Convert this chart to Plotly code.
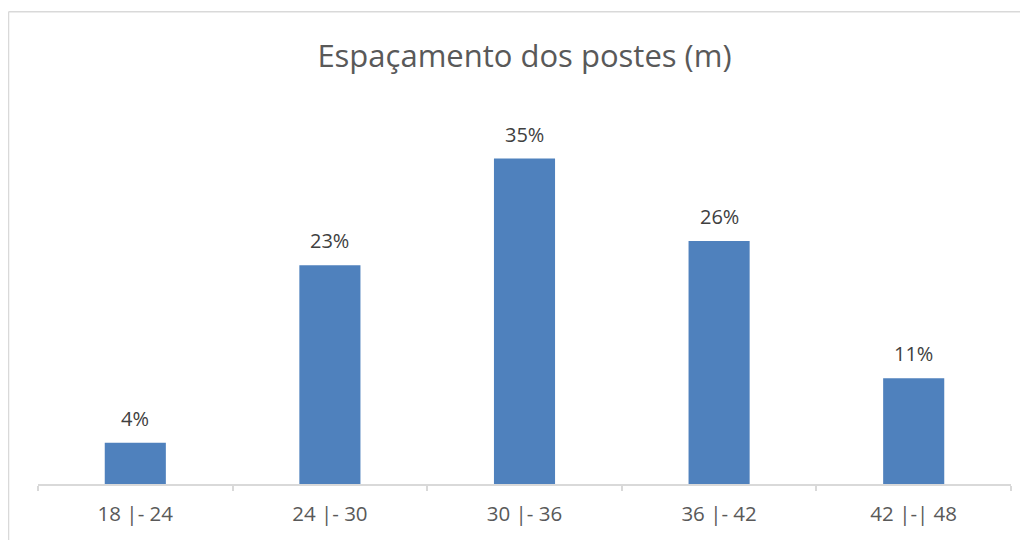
import plotly.graph_objects as go

GRAY_TEXT = "#595959"
LINE_GRAY = "#d9d9d9"
BAR_BLUE = "#4f81bd"
FONT = "Open Sans, Lato, sans-serif"

categories = ["18 |- 24", "24 |- 30", "30 |- 36", "36 |- 42", "42 |-| 48"]
percentages = [4.4, 23.4, 34.8, 26.0, 11.3]
labels = [f"{round(v)}%" for v in percentages]

fig = go.Figure(go.Bar(
    x=categories,
    y=percentages,
    marker=dict(color=BAR_BLUE, line=dict(width=0)),
    hoverinfo="skip",
))

for cat, val, lab in zip(categories, percentages, labels):
    fig.add_annotation(x=cat, y=val, text=lab, showarrow=False, yanchor="bottom",
                       yshift=9, font=dict(family=FONT, size=20, color="#404040"))

# outer chart border (only left and top edges are in view)
fig.add_shape(type="line", xref="paper", yref="paper", x0=-0.0303, x1=1.03, y0=1.263, y1=1.263,
              line=dict(color=LINE_GRAY, width=1.5))
fig.add_shape(type="line", xref="paper", yref="paper", x0=-0.0303, x1=-0.0303, y0=1.263, y1=-0.25,
              line=dict(color=LINE_GRAY, width=1.5))

# page has an 8px body margin, so the layout is shifted back by 8px
fig.update_layout(
    width=1028, height=540,
    title=dict(text="Espaçamento dos postes (m)", x=0.5, xref="paper", y=1 - 48 / 540,
               yref="container", yanchor="middle", xanchor="center",
               font=dict(family=FONT, size=31, color=GRAY_TEXT)),
    plot_bgcolor="white", paper_bgcolor="white",
    margin=dict(l=30, r=25, t=102, b=64),
    bargap=0.686,
    showlegend=False,
    xaxis=dict(showline=True, linecolor=LINE_GRAY, linewidth=1.5, ticks="outside", tickson="boundaries",
               ticklen=5, tickcolor=LINE_GRAY, tickwidth=1.5, ticklabelstandoff=11,
               tickfont=dict(family=FONT, size=20.5, color=GRAY_TEXT), showgrid=False),
    yaxis=dict(range=[0, 40], visible=False, showgrid=False, zeroline=False),
)

fig.write_html("out.html")
